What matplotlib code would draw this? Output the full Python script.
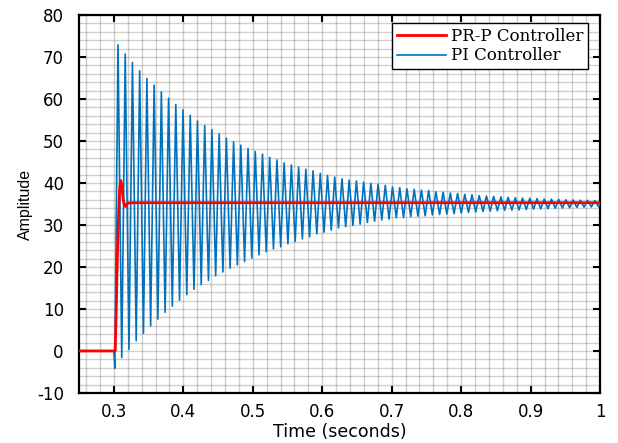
import matplotlib
matplotlib.use('Agg')
import matplotlib.pyplot as plt
from matplotlib.ticker import MultipleLocator
import numpy as np

plt.rcParams['axes.unicode_minus'] = False

# PI controller: values read at each peak / trough of the oscillation
pi_period = 0.0104          # s, oscillation period
pi_first_peak_t = 0.306
pi_first_trough_t = 0.3114
pi_step_t = 0.3014          # initial dip just after the step
pi_step_val = -4.1

pi_peaks = [72.9, 70.7, 68.7, 66.7, 64.9, 63.3, 61.7, 60.2, 58.7, 57.4,
            56.1, 54.8, 53.7, 52.7, 51.7, 50.7, 49.8, 49.0, 48.2, 47.5,
            46.9, 46.1, 45.5, 44.8, 44.3, 43.8, 43.3, 42.9, 42.3, 41.8,
            41.4, 41.0, 40.7, 40.5, 40.2, 39.9, 39.7, 39.45, 39.1, 38.9,
            38.6, 38.5, 38.3, 38.2, 37.9, 37.8,
            37.6, 37.5, 37.3, 37.2, 37.0, 36.9, 36.8, 36.7, 36.6, 36.5,
            36.4, 36.35, 36.3, 36.2, 36.15, 36.1, 36.0, 35.95, 35.9, 35.85, 35.8]

pi_troughs = [-1.6, 0.4, 2.45, 4.2, 6.0, 7.6, 9.2, 10.7, 12.1, 13.4,
              14.7, 15.8, 16.8, 17.9, 18.8, 19.7, 20.5, 21.3, 22.1,
              22.9, 23.6, 24.3, 24.8, 25.5, 26.1, 26.7, 27.2, 27.9, 28.3,
              28.8, 29.3, 29.6, 29.9, 30.2, 30.6, 30.9, 31.2, 31.4, 31.7,
              31.8, 32.0, 32.1, 32.2, 32.4, 32.5,
              32.6, 32.7, 32.85, 33.0, 33.1, 33.2, 33.3, 33.4, 33.5, 33.55,
              33.6, 33.7, 33.8, 33.85, 33.9, 34.0, 34.05, 34.1, 34.2, 34.25,
              34.3, 34.35]

# PR-P controller response
prp_t = [0.25, 0.300, 0.3020, 0.3035, 0.3050, 0.3070, 0.3085, 0.3100,
         0.3115, 0.3135, 0.3155, 0.3170, 0.3190, 0.3220, 1.0]
prp_y = [0.0, 0.0, 0.0, 10.0, 22.0, 33.0, 39.0, 40.6,
         39.5, 36.0, 34.6, 34.4, 35.0, 35.3, 35.3]

# build the PI curve: flat before the step, then alternate peak / trough
peak_t = pi_first_peak_t + pi_period * np.arange(len(pi_peaks))
trough_t = pi_first_trough_t + pi_period * np.arange(len(pi_troughs))
ext_t = np.concatenate([peak_t, trough_t])
ext_y = np.concatenate([pi_peaks, pi_troughs])
order = np.argsort(ext_t)
pi_t = np.concatenate([[0.25, 0.300, pi_step_t], ext_t[order], [1.0]])
pi_y = np.concatenate([[0.0, 0.0, pi_step_val], ext_y[order], [35.0]])

fig = plt.figure(figsize=(6.18, 4.43), dpi=100)
ax = fig.add_axes([0.128, 0.113, 0.843, 0.853])

ax.plot(pi_t, pi_y, color='#0072BD', lw=1.2, label='PI Controller', zorder=3)
ax.plot(prp_t, prp_y, color='#FF0000', lw=2.0, label='PR-P Controller', zorder=4)

ax.set_xlim(0.25, 1.0)
ax.set_ylim(-10, 80)
ax.set_xticks([0.3, 0.4, 0.5, 0.6, 0.7, 0.8, 0.9, 1.0])
ax.set_xticklabels(['0.3', '0.4', '0.5', '0.6', '0.7', '0.8', '0.9', '1'])
ax.set_yticks(np.arange(-10, 81, 10))
ax.xaxis.set_minor_locator(MultipleLocator(0.02))
ax.yaxis.set_minor_locator(MultipleLocator(2))

ax.grid(True, which='both', color='#888888', alpha=0.4, lw=1.0)
ax.set_axisbelow(True)

ax.tick_params(which='major', direction='in', length=5, width=1.5,
               top=True, right=True, labelsize=12)
ax.tick_params(axis='x', which='major', pad=7)
ax.tick_params(axis='y', which='major', pad=11)
ax.tick_params(which='minor', length=0)
for lab in ax.get_xticklabels() + ax.get_yticklabels():
    lab.set_fontfamily('DejaVu Sans')
for s in ax.spines.values():
    s.set_linewidth(1.6)

ax.set_xlabel('Time (seconds)', fontfamily='DejaVu Sans', fontsize=12.5, labelpad=1.5)
ax.set_ylabel('Amplitude', fontfamily='Liberation Sans', fontsize=11.5, labelpad=3)

handles, labels = ax.get_legend_handles_labels()
leg = ax.legend(handles[::-1], labels[::-1], loc='upper right',
                bbox_to_anchor=(0.977, 0.979), borderaxespad=0,
                prop={'family': 'DejaVu Serif', 'size': 12},
                fancybox=False, framealpha=1, edgecolor='black',
                handlelength=2.9, borderpad=0.3, labelspacing=0.15,
                handletextpad=0.3)
leg.get_frame().set_linewidth(1.0)

plt.savefig('out.png', dpi=100)
